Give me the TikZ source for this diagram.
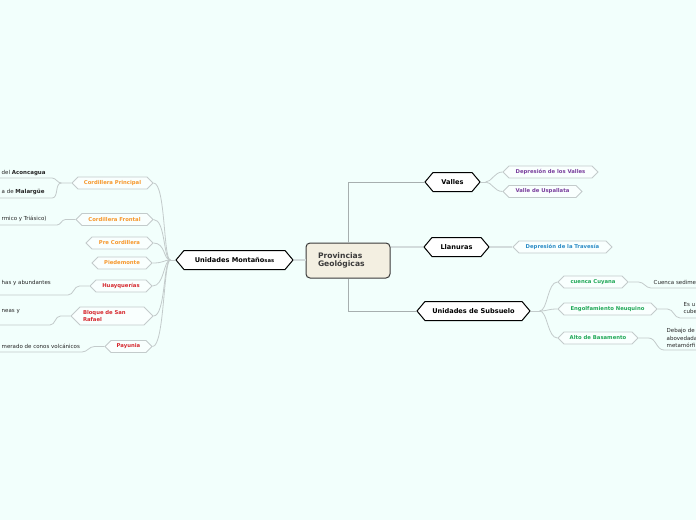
\documentclass[tikz,border=0pt]{standalone}
\usepackage{fontspec}
\setmainfont{DejaVu Sans}
\usetikzlibrary{shapes.symbols}
\definecolor{canvas}{HTML}{F2FFFC}
\definecolor{rootfill}{HTML}{F3EFE1}
\definecolor{rootline}{HTML}{3A3A3A}
\definecolor{twiggray}{HTML}{C3CBCB}
\definecolor{trunkgray}{HTML}{A7AFAF}
\definecolor{bandgray}{HTML}{D3DCDC}
\definecolor{tangerine}{HTML}{F7962A}
\definecolor{brick}{HTML}{D6282E}
\definecolor{plum}{HTML}{7A3E9D}
\definecolor{sky}{HTML}{2A8BC6}
\definecolor{grass}{HTML}{20A857}

\begin{document}
\begin{tikzpicture}[
  x=1pt, y=-1pt,
  rootbox/.style={rectangle, rounded corners=4pt, draw=rootline, line width=1pt, fill=rootfill, minimum height=35pt, text width=60pt, inner xsep=12pt, align=left, text=rootline, font=\fontsize{7.6}{8.6}\selectfont\bfseries},
  mainbox/.style={signal, signal to=east and west, signal pointer angle=100, draw=black, line width=1pt, fill=white, minimum height=19pt, inner xsep=2pt, font=\fontsize{6.6}{7.5}\selectfont\bfseries},
  branchbox/.style={signal, signal to=east and west, signal pointer angle=90, draw=twiggray, line width=0.8pt, fill=white!55!canvas, minimum height=12pt, inner sep=1pt, font=\fontsize{5.3}{6.2}\selectfont\bfseries},
  notetext/.style={inner sep=0.5pt, align=left, text=black!85, font=\fontsize{5.5}{7.2}\selectfont},
  trunk/.style={draw=trunkgray, line width=0.9pt},
  band/.style={draw=bandgray, line width=2pt},
  twig/.style={draw=twiggray, line width=0.8pt}
]
\useasboundingbox (0,0) rectangle (696,520);
\fill[canvas] (0,0) rectangle (696,520);
\clip (0,0) rectangle (696,520);
\coordinate (ledge) at (0,0);
\coordinate (redge) at (696,0);

% centre and main branches
\node[rootbox] (prov) at (348,260.5) {Provincias\\Geológicas};
\node[mainbox, minimum width=55pt] (valles) at (452.5,182) {Valles};
\node[mainbox, minimum width=65pt] (llan) at (456.5,247) {Llanuras};
\node[mainbox, minimum width=113pt] (subs) at (473.5,311) {Unidades de Subsuelo};
\node[mainbox, minimum width=117pt] (mont) at (234.5,260) {Unidades Montaño\raisebox{-0.6pt}{\fontsize{5.2}{6}\selectfont sas}};

\draw[trunk] (valles.west) -| (prov.north);
\draw[trunk] (subs.west) -| (prov.south);
\draw[band] (llan.west) -- (llan.west -| prov.east);
\draw[band] (mont.east) -- (mont.east -| prov.west);

% Valles
\node[branchbox, text=plum, minimum width=95pt] (dvalles) at (550.5,172) {Depresión de los Valles};
\node[branchbox, text=plum, minimum width=79pt] (uspa) at (542.5,191.5) {Valle de Uspallata};
\coordinate (vhub) at ([xshift=5pt]valles.east);
\draw[twig] (valles.east) -- (vhub);
\foreach \n in {dvalles,uspa}
  \draw[twig] (vhub) to[out=0,in=180,out distance=6pt,in distance=8pt] (\n.west);

% Llanuras
\node[branchbox, text=sky, minimum width=99pt] (trav) at (562.5,247) {Depresión de la Travesía};
\draw[band] (llan.east) -- (trav.west);

% Unidades de Subsuelo
\node[branchbox, text=grass, minimum width=70pt] (cuyana) at (593,282) {cuenca Cuyana};
\node[branchbox, text=grass, minimum width=99pt] (neuq) at (607.5,309) {Engolfamiento Neuquino};
\node[branchbox, text=grass, minimum width=80pt] (basam) at (598,338) {Alto de Basamento};
\coordinate (shub) at ([xshift=9pt]subs.east);
\draw[twig] (subs.east) -- (shub);
\foreach \n in {cuyana,neuq,basam}
  \draw[twig] (shub) to[out=0,in=180,out distance=8pt,in distance=10pt] (\n.west);

\node[notetext, anchor=west] (n-cuyana) at (653,282) {Cuenca sedime};
\node[notetext, anchor=west] (n-neuq) at (683,308) {Es u\\cube};
\node[notetext, anchor=west] (n-basam) at (666,338) {Debajo de\\abovedada\\metamórfi};
\coordinate (u-cuyana) at (651,288);
\coordinate (u-neuq) at (680,318);
\coordinate (u-basam) at (664,350);
\foreach \n in {cuyana,neuq,basam}
  \draw[twig] (\n.east) -- ++(10,0) to[out=0,in=180] (u-\n) -- (u-\n -| redge);

% Unidades Montañosas
\node[branchbox, text=tangerine, minimum width=81pt] (cp) at (112.5,183) {Cordillera Principal};
\node[branchbox, text=tangerine, minimum width=77pt] (cf) at (114.5,219.5) {Cordillera Frontal};
\node[branchbox, text=tangerine, minimum width=67pt] (pc) at (119.5,243) {Pre Cordillera};
\node[branchbox, text=tangerine, minimum width=60pt] (pm) at (122,263) {Piedemonte};
\node[branchbox, text=brick, minimum width=62pt] (hu) at (121,286) {Huayquerías};
\node[branchbox, text=brick, minimum width=82pt, minimum height=18pt, text width=58pt, align=left] (bsr) at (112,316) {Bloque de San\\Rafael};
\node[branchbox, text=brick, minimum width=47pt] (pay) at (128.5,346.5) {Payunia};
\coordinate (mhub) at ([xshift=-5pt]mont.west);
\draw[twig] (mont.west) -- (mhub);
\foreach \n in {cp,cf,pc,pm,hu,bsr,pay}
  \draw[twig] (mhub) to[out=180,in=0,out distance=7pt,in distance=12pt] (\n.east);

\node[notetext, anchor=west] (n-cp1) at (1,173) {del \textbf{Aconcagua}};
\node[notetext, anchor=west] (n-cp2) at (1,192) {a de \textbf{Malargüe}};
\node[notetext, anchor=west] (n-cf) at (1,219) {rmico y Triásico)};
\node[notetext, anchor=west] (n-hu) at (1,283) {has y abundantes};
\node[notetext, anchor=west] (n-bsr) at (1,312) {neas y};
\node[notetext, anchor=west] (n-pay) at (1,346) {merado de conos volcánicos};
\coordinate (u-cp1) at (52,178);
\coordinate (u-cp2) at (52,198);
\coordinate (u-cf) at (57,225);
\coordinate (u-hu) at (68,295);
\coordinate (u-bsr) at (50,325);
\coordinate (u-pay) at (82,352);

\draw[twig] (cp.west) -- ++(-10,0) coordinate (cpfork) to[out=180,in=0] (u-cp1) -- (u-cp1 -| ledge);
\draw[twig] (cpfork) to[out=180,in=0] (u-cp2) -- (u-cp2 -| ledge);
\foreach \n in {cf,hu,bsr,pay}
  \draw[twig] (\n.west) -- ++(-10,0) to[out=180,in=0] (u-\n) -- (u-\n -| ledge);
\end{tikzpicture}
\end{document}
